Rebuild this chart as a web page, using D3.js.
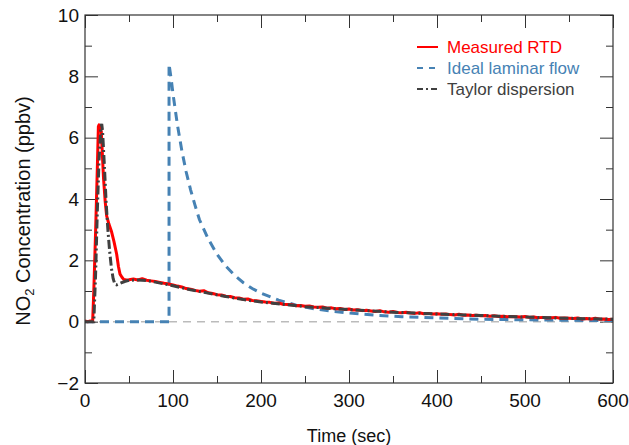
<!DOCTYPE html>
<html><head><meta charset="utf-8">
<script src="https://cdn.jsdelivr.net/npm/d3@7"></script>
<style>body{margin:0;background:#fff}svg{display:block}text{font-family:"Liberation Sans",Arial,Helvetica,sans-serif}</style>
</head><body>
<script>
// ---- data ----
const xTicks = [0,100,200,300,400,500,600];
const yTicks = [-2,0,2,4,6,8,10];
const legendLabels = ["Measured RTD","Ideal laminar flow","Taylor dispersion"];

// Measured RTD
const measuredT = [0,3,6,8.7,10,12,14,15.2,16,17,18.5,19.5,21,23,24.6,27,30,33,36,38,39.8,42,44,47,
 50,55,60,65,70,75,80,85,90,95,100,105,110,115,120,125,130,135,140,145,150,155,160,165,170,175,180,185,190,195,
 200,205,210,215,220,225,230,235,240,245,250,255,260,265,270,275,280,285,290,295,300,305,310,315,320,325,330,335,340,345,
 350,355,360,365,370,375,380,385,390,395,400,405,410,415,420,425,430,435,440,445,450,455,460,465,470,475,480,485,490,495,
 500,505,510,515,520,525,530,535,540,545,550,555,560,565,570,575,580,585,590,595,600];
const measuredV = [0.02,0.0,0.02,0.0,1.0,2.9,5.0,6.36,6.42,6.3,6.2,5.6,4.7,3.9,3.45,3.2,2.95,2.6,2.2,1.8,1.55,1.45,1.38,1.36,
 1.37,1.39,1.36,1.40,1.35,1.33,1.31,1.28,1.25,1.23,1.20,1.16,1.13,1.08,1.06,1.02,0.99,1.01,0.94,0.92,0.88,0.87,0.83,0.82,0.78,0.77,0.73,0.74,0.69,0.68,
 0.66,0.64,0.63,0.60,0.61,0.57,0.56,0.55,0.52,0.53,0.50,0.51,0.48,0.47,0.48,0.44,0.45,0.42,0.43,0.40,0.41,0.38,0.39,0.36,0.37,0.35,0.33,0.36,0.32,0.31,
 0.33,0.30,0.29,0.31,0.28,0.27,0.29,0.26,0.27,0.25,0.26,0.24,0.25,0.23,0.22,0.24,0.21,0.22,0.20,0.21,0.19,0.20,0.18,0.19,0.17,0.18,0.16,0.17,0.16,0.15,
 0.17,0.14,0.15,0.13,0.14,0.12,0.13,0.14,0.11,0.12,0.11,0.10,0.12,0.09,0.10,0.09,0.11,0.08,0.09,0.07,0.08];

// Ideal laminar flow
const laminarT = [0,95.5,95.5,98,100,105,110,115,120,125,130,140,150,160,170,180,190,200,220,240,260,280,300,330,360,400,450,500,550,600];
const laminarV = [0,0,8.4,7.9,7.43,6.42,5.58,4.88,4.3,3.8,3.33,2.7,2.2,1.81,1.51,1.27,1.08,0.93,0.7,0.54,0.42,0.34,0.28,0.21,0.16,0.12,0.08,0.06,0.045,0.035];

// Taylor dispersion
const taylorT = [0,10,12,14,16,18,19,20,22,24,26,28,30,32,34,36,40,45,50,60,70,80,90,100,120,140,160,180,200,250,300,350,400,450,500,550,600];
const taylorV = [0,0,1.5,3.6,5.3,6.3,6.45,6.2,5.1,3.9,3.0,2.3,1.75,1.4,1.22,1.2,1.25,1.31,1.35,1.36,1.34,1.29,1.23,1.17,1.04,0.93,0.82,0.72,0.64,0.49,0.39,0.31,0.25,0.2,0.15,0.11,0.08];

// ---- chart ----
const W=629,H=445, L=85,R=613,T=15,B=383;
const svg=d3.select("body").append("svg").attr("width",W).attr("height",H);
const x=d3.scaleLinear().domain([0,600]).range([L,R]);
const y=d3.scaleLinear().domain([-2,10]).range([B,T]);
const axisCol="#333", fs=19;

svg.append("defs").append("clipPath").attr("id","clip")
 .append("rect").attr("x",L).attr("y",T).attr("width",R-L).attr("height",B-T);

const minorX=d3.range(50,600,100), minorY=d3.range(-1,10,2);
function ticks(axisGen, pos, vals, len){
  svg.append("g").attr("transform",pos)
   .call(axisGen.tickValues(vals).tickSize(len).tickFormat(""))
   .call(g=>{g.select(".domain").remove(); g.selectAll("line").attr("stroke",axisCol);});
}
// inward ticks on all four sides
ticks(d3.axisTop(x),`translate(0,${B})`,xTicks,13);
ticks(d3.axisTop(x),`translate(0,${B})`,minorX,7);
ticks(d3.axisBottom(x),`translate(0,${T})`,xTicks,13);
ticks(d3.axisBottom(x),`translate(0,${T})`,minorX,7);
ticks(d3.axisRight(y),`translate(${L},0)`,yTicks,13);
ticks(d3.axisRight(y),`translate(${L},0)`,minorY,7);
ticks(d3.axisLeft(y),`translate(${R},0)`,yTicks,13);
ticks(d3.axisLeft(y),`translate(${R},0)`,minorY,7);

// tick labels
svg.append("g").selectAll("text").data(xTicks).join("text")
 .attr("x",d=>x(d)).attr("y",407).attr("text-anchor","middle").attr("font-size",fs).attr("fill","#111")
 .text(d=>d);
svg.append("g").selectAll("text").data(yTicks).join("text")
 .attr("x",L-6).attr("y",d=>y(d)).attr("dy","0.35em").attr("text-anchor","end").attr("font-size",fs).attr("fill","#111")
 .text(d=>d<0?"\u2212"+Math.abs(d):d);

// axis titles
svg.append("text").attr("x",(L+R)/2).attr("y",442).attr("text-anchor","middle").attr("font-size",18).attr("fill","#111").text("Time (sec)");
const yl=svg.append("text").attr("transform","translate(30,211) rotate(-90)").attr("text-anchor","middle").attr("font-size",20).attr("fill","#111");
yl.append("tspan").text("NO");
yl.append("tspan").attr("font-size",13).attr("dy",4).text("2");
yl.append("tspan").attr("dy",-4).text(" Concentration (ppbv)");

// zero reference line
svg.append("line").attr("x1",x(0)).attr("x2",x(600)).attr("y1",y(0)).attr("y2",y(0))
 .attr("stroke","#bbb").attr("stroke-width",1.5).attr("stroke-dasharray","8,6");

const line=d3.line().x(d=>x(d[0])).y(d=>y(d[1]));
const plot=svg.append("g").attr("clip-path","url(#clip)");
const zip=(a,b)=>a.map((t,i)=>[t,b[i]]);
plot.append("path").datum(zip(laminarT,laminarV)).attr("d",line).attr("fill","none")
 .attr("stroke","#4682b4").attr("stroke-width",3).attr("stroke-dasharray","9,6");
plot.append("path").datum(zip(measuredT,measuredV)).attr("d",line).attr("fill","none")
 .attr("stroke","#ff0000").attr("stroke-width",3).attr("stroke-linejoin","round");
plot.append("path").datum(zip(taylorT,taylorV)).attr("d",line).attr("fill","none")
 .attr("stroke","#404040").attr("stroke-width",3).attr("stroke-dasharray","9,3,2,3");

// frame
svg.append("rect").attr("x",L).attr("y",T).attr("width",R-L).attr("height",B-T)
 .attr("fill","none").attr("stroke",axisCol).attr("stroke-width",1.2);

// legend
const legCols=["#ff0000","#4682b4","#404040"], legDash=[null,"6,6","6,3,2,3"];
const lg=svg.append("g");
legendLabels.forEach((s,i)=>{
  const yy=47+i*21;
  lg.append("line").attr("x1",417).attr("x2",438).attr("y1",yy).attr("y2",yy)
   .attr("stroke",legCols[i]).attr("stroke-width",2).attr("stroke-dasharray",legDash[i]);
  lg.append("text").attr("x",447).attr("y",yy).attr("dy","0.35em").attr("font-size",17)
   .attr("fill",legCols[i]).text(s);
});
</script>
</body></html>
